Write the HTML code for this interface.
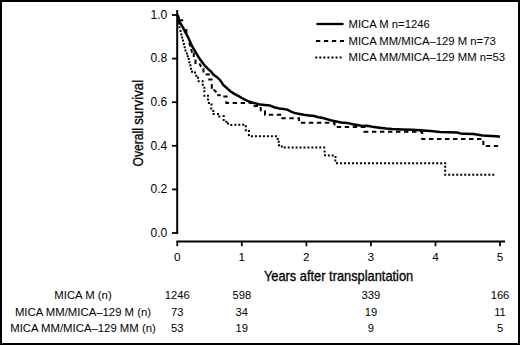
<!DOCTYPE html>
<html><head><meta charset="utf-8"><style>
html,body{margin:0;padding:0;background:#fff;}
body{width:520px;height:345px;overflow:hidden;}
svg{display:block;font-family:"Liberation Sans",sans-serif;}
</style></head><body>
<svg width="520" height="345" viewBox="0 0 520 345">
<rect x="0" y="0" width="520" height="345" fill="#fff"/>
<g stroke="#000" stroke-width="1.8" fill="none" stroke-linecap="butt">
<line x1="177.2" y1="10" x2="177.2" y2="233.9" stroke-width="2"/>
<line x1="172" y1="233.0" x2="178" y2="233.0"/><line x1="172" y1="189.4" x2="178" y2="189.4"/><line x1="172" y1="145.8" x2="178" y2="145.8"/><line x1="172" y1="102.2" x2="178" y2="102.2"/><line x1="172" y1="58.6" x2="178" y2="58.6"/><line x1="172" y1="15.0" x2="178" y2="15.0"/>
<line x1="176.4" y1="241.5" x2="505" y2="241.5"/>
<line x1="177.3" y1="241.5" x2="177.3" y2="246.2"/><line x1="241.8" y1="241.5" x2="241.8" y2="246.2"/><line x1="306.4" y1="241.5" x2="306.4" y2="246.2"/><line x1="370.9" y1="241.5" x2="370.9" y2="246.2"/><line x1="435.5" y1="241.5" x2="435.5" y2="246.2"/><line x1="500.0" y1="241.5" x2="500.0" y2="246.2"/>
</g>
<g font-size="11.5" fill="#000">
<text x="167.2" y="236.85" text-anchor="end" font-size="12">0.0</text><text x="167.2" y="193.25" text-anchor="end" font-size="12">0.2</text><text x="167.2" y="149.65" text-anchor="end" font-size="12">0.4</text><text x="167.2" y="106.05" text-anchor="end" font-size="12">0.6</text><text x="167.2" y="62.45" text-anchor="end" font-size="12">0.8</text><text x="167.2" y="18.85" text-anchor="end" font-size="12">1.0</text>
<text x="177.3" y="260.5" text-anchor="middle" font-size="11.8">0</text><text x="241.8" y="260.5" text-anchor="middle" font-size="11.8">1</text><text x="306.4" y="260.5" text-anchor="middle" font-size="11.8">2</text><text x="370.9" y="260.5" text-anchor="middle" font-size="11.8">3</text><text x="435.5" y="260.5" text-anchor="middle" font-size="11.8">4</text><text x="500.0" y="260.5" text-anchor="middle" font-size="11.8">5</text>
</g>
<text x="338.6" y="281" font-size="14" text-anchor="middle" transform="translate(338.6 0) scale(0.917 1) translate(-338.6 0)" fill="#000" stroke="#000" stroke-width="0.3">Years after transplantation</text>
<text x="0" y="0" font-size="14" transform="translate(143.4 166.5) rotate(-90) scale(0.866 1)" fill="#000" stroke="#000" stroke-width="0.3">Overall</text>
<text x="0" y="0" font-size="14" text-anchor="end" transform="translate(143.4 79.9) rotate(-90) scale(0.948 1)" fill="#000" stroke="#000" stroke-width="0.3">survival</text>
<g fill="none" stroke="#000" stroke-width="2" stroke-linejoin="miter">
<polyline points="177.3,15.0 178.3,16.5 179.2,21.0 180.5,23.5 182.5,26.6 185.6,32.6 188.2,37.5 192.2,46.5 196.5,53.7 199.3,58.3 202.0,62.0 204.6,65.4 208.0,68.9 211.5,72.0 213.3,74.6 216.7,76.9 220.2,80.2 223.3,85.0 227.6,88.7 230.0,91.0 234.3,93.9 238.7,96.1 243.0,98.7 247.4,100.9 252.6,102.6 255.0,103.3 260.2,104.6 264.6,105.0 269.8,105.4 274.1,107.2 279.3,108.5 282.0,108.7 287.2,109.6 290.7,111.3 294.2,112.9 299.4,113.9 303.7,114.8 309.0,115.5 314.2,116.1 318.5,117.2 322.0,117.8 326.8,119.1 331.6,120.5 336.4,121.5 341.2,122.4 347.0,122.9 352.8,124.3 358.5,125.3 362.0,125.9 367.2,125.8 372.4,126.8 379.4,127.7 386.3,128.5 392.4,129.0 402.0,129.4 412.4,129.7 420.0,130.2 430.4,131.0 440.0,131.9 457.0,132.4 460.4,133.4 465.0,133.7 473.7,134.1 482.4,135.6 491.1,135.9 496.3,136.3 500.0,136.7" stroke-width="2.5"/>
<line x1="178.3" y1="20.3" x2="183.2" y2="20.3"/><line x1="186.4" y1="29" x2="186.4" y2="33.3"/><line x1="189.2" y1="42.6" x2="190.6" y2="46.6"/><line x1="191.0" y1="49.0" x2="192.2" y2="52.6"/><line x1="193.8" y1="52.6" x2="193.8" y2="57"/><line x1="195.5" y1="59.6" x2="195.5" y2="64"/><line x1="199.3" y1="63.4" x2="201.1" y2="66.7"/><line x1="203.5" y1="68.2" x2="203.5" y2="72.5"/><line x1="205.6" y1="74.4" x2="209.8" y2="74.4"/><line x1="208.3" y1="79.5" x2="212.5" y2="79.5"/><line x1="211.8" y1="84.2" x2="211.8" y2="88.8"/><line x1="213.6" y1="89.6" x2="216.4" y2="92.2"/><line x1="217.2" y1="95.2" x2="220.7" y2="95.2"/><line x1="223.3" y1="96.5" x2="227.6" y2="96.5"/>
<polyline points="226.3,99.3 226.3,102.9 252.5,102.9 252.5,106.0 260.7,106.0 260.7,111.5 265.0,111.5 265.0,114.8 281.3,114.8 281.3,118.3 299.0,118.3 299.0,122.8 334.5,122.8 334.5,127.0 364.2,127.0 364.2,131.8 422.2,131.8 422.2,138.9 483.3,138.9 483.3,146.1 498.2,146.1" stroke-dasharray="4.4 3.61" stroke-dashoffset="6.05"/>

</g>
<path d="M177.60 18.50h2.0v2.0h-2.0zM178.00 22.40h2.0v2.0h-2.0zM178.50 26.20h2.0v2.0h-2.0zM179.50 29.90h2.0v2.0h-2.0zM180.30 33.40h2.0v2.0h-2.0zM181.10 36.60h2.0v2.0h-2.0zM182.00 39.60h2.0v2.0h-2.0zM182.90 43.00h2.0v2.0h-2.0zM183.70 46.20h2.0v2.0h-2.0zM184.50 49.60h2.0v2.0h-2.0zM185.90 52.50h2.0v2.0h-2.0zM186.80 55.30h2.0v2.0h-2.0zM187.70 57.90h2.0v2.0h-2.0zM188.30 61.20h2.0v2.0h-2.0zM189.40 64.30h2.0v2.0h-2.0zM190.10 67.70h2.0v2.0h-2.0zM191.00 70.70h2.0v2.0h-2.0zM194.00 71.60h2.0v2.0h-2.0zM195.30 74.70h2.0v2.0h-2.0zM197.00 76.80h2.0v2.0h-2.0zM197.70 80.30h2.0v2.0h-2.0zM201.60 80.30h2.0v2.0h-2.0zM201.80 83.80h2.0v2.0h-2.0zM203.40 86.70h2.0v2.0h-2.0zM203.40 90.30h2.0v2.0h-2.0zM203.40 94.70h2.0v2.0h-2.0zM207.00 94.70h2.0v2.0h-2.0zM207.00 98.60h2.0v2.0h-2.0zM207.90 101.90h2.0v2.0h-2.0zM210.50 103.60h2.0v2.0h-2.0zM210.20 107.60h2.0v2.0h-2.0zM212.30 109.90h2.0v2.0h-2.0zM212.70 112.90h2.0v2.0h-2.0zM217.00 112.90h2.0v2.0h-2.0zM218.30 115.50h2.0v2.0h-2.0zM222.70 115.10h2.0v2.0h-2.0zM222.70 119.00h2.0v2.0h-2.0zM225.30 120.70h2.0v2.0h-2.0zM227.00 122.50h2.0v2.0h-2.0zM230.30 123.90h2.0v2.0h-2.0zM234.40 123.80h2.0v2.0h-2.0zM238.30 123.80h2.0v2.0h-2.0zM242.20 123.80h2.0v2.0h-2.0zM244.80 125.30h2.0v2.0h-2.0zM244.80 129.20h2.0v2.0h-2.0zM247.90 130.00h2.0v2.0h-2.0zM247.90 134.00h2.0v2.0h-2.0zM250.90 135.20h2.0v2.0h-2.0zM254.90 135.20h2.0v2.0h-2.0zM258.90 135.20h2.0v2.0h-2.0zM262.90 135.20h2.0v2.0h-2.0zM266.90 135.20h2.0v2.0h-2.0zM270.90 135.20h2.0v2.0h-2.0zM274.90 135.20h2.0v2.0h-2.0zM276.70 137.90h2.0v2.0h-2.0zM277.70 140.70h2.0v2.0h-2.0zM278.00 144.20h2.0v2.0h-2.0zM280.80 145.40h2.0v2.0h-2.0zM283.80 146.60h2.0v2.0h-2.0zM287.74 146.60h2.0v2.0h-2.0zM291.68 146.60h2.0v2.0h-2.0zM295.62 146.60h2.0v2.0h-2.0zM299.56 146.60h2.0v2.0h-2.0zM303.50 146.60h2.0v2.0h-2.0zM307.44 146.60h2.0v2.0h-2.0zM311.38 146.60h2.0v2.0h-2.0zM315.32 146.60h2.0v2.0h-2.0zM319.26 146.60h2.0v2.0h-2.0zM323.20 146.60h2.0v2.0h-2.0zM323.60 150.60h2.0v2.0h-2.0zM324.00 154.30h2.0v2.0h-2.0zM327.90 154.40h2.0v2.0h-2.0zM331.70 154.40h2.0v2.0h-2.0zM334.50 155.90h2.0v2.0h-2.0zM334.30 159.60h2.0v2.0h-2.0zM336.00 162.20h2.0v2.0h-2.0zM340.01 162.20h2.0v2.0h-2.0zM344.01 162.20h2.0v2.0h-2.0zM348.02 162.20h2.0v2.0h-2.0zM352.03 162.20h2.0v2.0h-2.0zM356.03 162.20h2.0v2.0h-2.0zM360.04 162.20h2.0v2.0h-2.0zM364.05 162.20h2.0v2.0h-2.0zM368.06 162.20h2.0v2.0h-2.0zM372.06 162.20h2.0v2.0h-2.0zM376.07 162.20h2.0v2.0h-2.0zM380.08 162.20h2.0v2.0h-2.0zM384.08 162.20h2.0v2.0h-2.0zM388.09 162.20h2.0v2.0h-2.0zM392.10 162.20h2.0v2.0h-2.0zM396.11 162.20h2.0v2.0h-2.0zM400.11 162.20h2.0v2.0h-2.0zM404.12 162.20h2.0v2.0h-2.0zM408.13 162.20h2.0v2.0h-2.0zM412.13 162.20h2.0v2.0h-2.0zM416.14 162.20h2.0v2.0h-2.0zM420.15 162.20h2.0v2.0h-2.0zM424.15 162.20h2.0v2.0h-2.0zM428.16 162.20h2.0v2.0h-2.0zM432.17 162.20h2.0v2.0h-2.0zM436.18 162.20h2.0v2.0h-2.0zM440.18 162.20h2.0v2.0h-2.0zM444.19 162.20h2.0v2.0h-2.0zM444.20 165.80h2.0v2.0h-2.0zM444.20 169.80h2.0v2.0h-2.0zM444.20 173.80h2.0v2.0h-2.0zM448.21 173.80h2.0v2.0h-2.0zM452.22 173.80h2.0v2.0h-2.0zM456.22 173.80h2.0v2.0h-2.0zM460.23 173.80h2.0v2.0h-2.0zM464.24 173.80h2.0v2.0h-2.0zM468.25 173.80h2.0v2.0h-2.0zM472.26 173.80h2.0v2.0h-2.0zM476.26 173.80h2.0v2.0h-2.0zM480.27 173.80h2.0v2.0h-2.0zM484.28 173.80h2.0v2.0h-2.0zM488.29 173.80h2.0v2.0h-2.0zM492.30 173.80h2.0v2.0h-2.0zM315.20 56.50h2.0v2.0h-2.0zM319.27 56.50h2.0v2.0h-2.0zM323.34 56.50h2.0v2.0h-2.0zM327.41 56.50h2.0v2.0h-2.0zM331.48 56.50h2.0v2.0h-2.0zM335.55 56.50h2.0v2.0h-2.0zM339.62 56.50h2.0v2.0h-2.0z" fill="#000"/>
<g stroke="#000" stroke-width="2">
<line x1="316.4" y1="24" x2="343.6" y2="24" stroke-width="2.3"/>
<line x1="316" y1="40.9" x2="344" y2="40.9" stroke-dasharray="4.3 3.67"/>

</g>
<g font-size="11.3" fill="#000">
<text x="348.5" y="28.3">MICA M n=1246</text>
<text x="348.5" y="44.6">MICA MM/MICA–129 M n=73</text>
<text x="348.5" y="61.4">MICA MM/MICA–129 MM n=53</text>
</g>
<g font-size="11.2" fill="#000">
<text x="83" y="298.6" text-anchor="middle" font-size="11.35">MICA M (n)</text><text x="177.3" y="298.6" text-anchor="middle">1246</text><text x="241.8" y="298.6" text-anchor="middle">598</text><text x="370.9" y="298.6" text-anchor="middle">339</text><text x="500.0" y="298.6" text-anchor="middle">166</text><text x="83" y="315.6" text-anchor="middle" font-size="11.35">MICA MM/MICA–129 M (n)</text><text x="177.3" y="315.6" text-anchor="middle">73</text><text x="241.8" y="315.6" text-anchor="middle">34</text><text x="370.9" y="315.6" text-anchor="middle">19</text><text x="500.0" y="315.6" text-anchor="middle">11</text><text x="83" y="332" text-anchor="middle" font-size="11.35">MICA MM/MICA–129 MM (n)</text><text x="177.3" y="332" text-anchor="middle">53</text><text x="241.8" y="332" text-anchor="middle">19</text><text x="370.9" y="332" text-anchor="middle">9</text><text x="500.0" y="332" text-anchor="middle">5</text>
</g>
<rect x="1" y="1" width="518" height="343" fill="none" stroke="#000" stroke-width="2"/>
</svg>
</body></html>
